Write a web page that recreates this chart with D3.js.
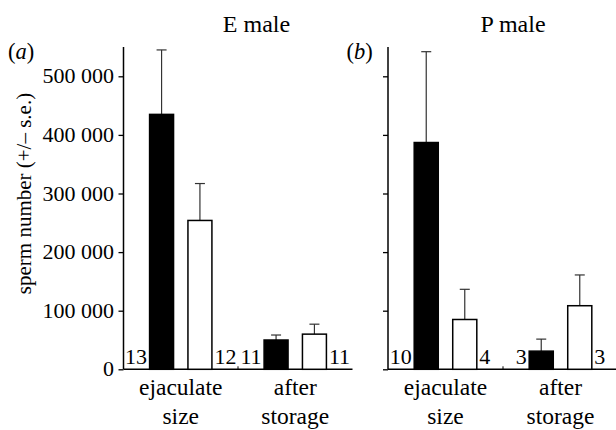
<!DOCTYPE html>
<html>
<head>
<meta charset="utf-8">
<script src="https://cdn.jsdelivr.net/npm/d3@7"></script>
<style>
  body { margin: 0; background: #fff; }
</style>
</head>
<body>
<div id="chart"></div>
<script>
// data
var categories = ["ejaculate size", "after storage"];
var catLines = [["ejaculate", "size"], ["after", "storage"]];
var panelTitles = ["E male", "P male"];
var panelTags = ["a", "b"];
var groups = ["black", "white"];

// sperm number means and +s.e.
var eBlack = [435000, 50000], eBlackSE = [110000, 8500];
var eWhite = [254000, 60000], eWhiteSE = [63000, 17000];
var pBlack = [387000, 31000], pBlackSE = [155000, 20500];
var pWhite = [85000, 108500], pWhiteSE = [51500, 52500];

// sample sizes
var eBlackN = [13, 11], eWhiteN = [12, 11];
var pBlackN = [10, 3], pWhiteN = [4, 3];

var yTicks = [0, 100000, 200000, 300000, 400000, 500000];

var serif = "Liberation Serif";

var width = 616, height = 430;
var svg = d3.select("#chart").append("svg")
    .attr("width", width)
    .attr("height", height);

var y = d3.scaleLinear().domain([0, 550000]).range([369.3, 47]);

var panels = [
  { x0: 123.5, x1: 352.5, tagX: 8, titleX: 256.5, black: eBlack, blackSE: eBlackSE, white: eWhite, whiteSE: eWhiteSE, bN: eBlackN, wN: eWhiteN, labels: true },
  { x0: 388, x1: 618, tagX: 346.5, titleX: 513, black: pBlack, blackSE: pBlackSE, white: pWhite, whiteSE: pWhiteSE, bN: pBlackN, wN: pWhiteN, labels: false }
];

var fmt = function(v) {
  if (v == 0) return "0";
  var s = String(v);
  return s.slice(0, s.length - 3) + " " + s.slice(-3);
};

panels.forEach(function(p, pi) {
  var x = d3.scaleBand().domain(categories).range([p.x0, p.x1]).padding(0);
  var xs = d3.scaleBand().domain(groups).range([0, x.bandwidth()])
      .paddingInner(0.375).paddingOuter(0.68);

  var g = svg.append("g");

  // y axis
  var yAxis = d3.axisLeft(y).tickValues(yTicks).tickSize(5)
      .tickFormat(p.labels ? fmt : "");
  var ya = g.append("g").attr("transform", "translate(" + p.x0 + ",0)").call(yAxis);
  ya.attr("font-family", serif).attr("font-size", 22);
  ya.select(".domain").attr("d", "M0," + y(550000) + "V" + y(0))
      .attr("stroke", "#000").attr("stroke-width", 1.5);
  ya.selectAll(".tick line").attr("stroke", "#000").attr("stroke-width", 1.3);
  ya.selectAll(".tick text")
      .attr("x", -9.5)
      .attr("dy", "0.3em")
      .attr("fill", "#000")
      .style("white-space", "pre");

  // x baseline
  g.append("line")
      .attr("x1", p.x0).attr("x2", p.x1)
      .attr("y1", y(0)).attr("y2", y(0))
      .attr("stroke", "#000").attr("stroke-width", 1.5);
  // small separator tick between categories
  g.append("line")
      .attr("x1", x(categories[1])).attr("x2", x(categories[1]))
      .attr("y1", y(0)).attr("y2", y(0) - 3)
      .attr("stroke", "#000").attr("stroke-width", 1);

  var rows = [];
  categories.forEach(function(c, i) {
    rows.push({ cat: c, grp: "black", v: p.black[i], se: p.blackSE[i], n: p.bN[i] });
    rows.push({ cat: c, grp: "white", v: p.white[i], se: p.whiteSE[i], n: p.wN[i] });
  });

  // error bars (upper only)
  var eb = g.selectAll(".err").data(rows).enter().append("g").attr("class", "err");
  eb.append("line")
      .attr("x1", function(d) { return x(d.cat) + xs(d.grp) + xs.bandwidth() / 2; })
      .attr("x2", function(d) { return x(d.cat) + xs(d.grp) + xs.bandwidth() / 2; })
      .attr("y1", function(d) { return y(d.v); })
      .attr("y2", function(d) { return y(d.v + d.se); })
      .attr("stroke", "#333").attr("stroke-width", 1.2);
  eb.append("line")
      .attr("x1", function(d) { return x(d.cat) + xs(d.grp) + xs.bandwidth() / 2 - 5; })
      .attr("x2", function(d) { return x(d.cat) + xs(d.grp) + xs.bandwidth() / 2 + 5; })
      .attr("y1", function(d) { return y(d.v + d.se); })
      .attr("y2", function(d) { return y(d.v + d.se); })
      .attr("stroke", "#333").attr("stroke-width", 1.2);

  // bars
  g.selectAll(".bar").data(rows).enter().append("rect")
      .attr("class", "bar")
      .attr("x", function(d) { return x(d.cat) + xs(d.grp); })
      .attr("y", function(d) { return y(d.v); })
      .attr("width", xs.bandwidth())
      .attr("height", function(d) { return y(0) - y(d.v); })
      .attr("fill", function(d) { return d.grp == "black" ? "#000" : "#fff"; })
      .attr("stroke", "#000")
      .attr("stroke-width", 1.5);

  // sample sizes
  g.selectAll(".n").data(rows).enter().append("text")
      .attr("class", "n")
      .attr("x", function(d) {
        return d.grp == "black" ? x(d.cat) + xs(d.grp) - 2.5 : x(d.cat) + xs(d.grp) + xs.bandwidth() + 2.5;
      })
      .attr("y", y(0) - 5.5)
      .attr("text-anchor", function(d) { return d.grp == "black" ? "end" : "start"; })
      .attr("font-family", serif)
      .attr("font-size", 22)
      .text(function(d) { return d.n; });

  // category labels
  categories.forEach(function(c, i) {
    var t = g.append("text")
        .attr("x", x(c) + x.bandwidth() / 2)
        .attr("y", 395)
        .attr("text-anchor", "middle")
        .attr("font-family", serif)
        .attr("font-size", 23.5);
    catLines[i].forEach(function(l, j) {
      t.append("tspan")
          .attr("x", x(c) + x.bandwidth() / 2)
          .attr("dy", j == 0 ? 0 : 28.5)
          .text(l);
    });
  });

  // panel title
  g.append("text")
      .attr("x", p.titleX)
      .attr("y", 32)
      .attr("text-anchor", "middle")
      .attr("font-family", serif)
      .attr("font-size", 24)
      .text(panelTitles[pi]);

  // panel tag
  var tag = g.append("text")
      .attr("x", p.tagX)
      .attr("y", 58.5)
      .attr("font-family", serif)
      .attr("font-size", 22.5);
  tag.append("tspan").text("(");
  tag.append("tspan").attr("font-style", "italic").text(panelTags[pi]);
  tag.append("tspan").text(")");
});

// y axis title
svg.append("text")
    .attr("transform", "translate(31,193.5) rotate(-90)")
    .attr("text-anchor", "middle")
    .attr("font-family", serif)
    .attr("font-size", 21)
    .text("sperm number (+/\u2013 s.e.)");
</script>
</body>
</html>
